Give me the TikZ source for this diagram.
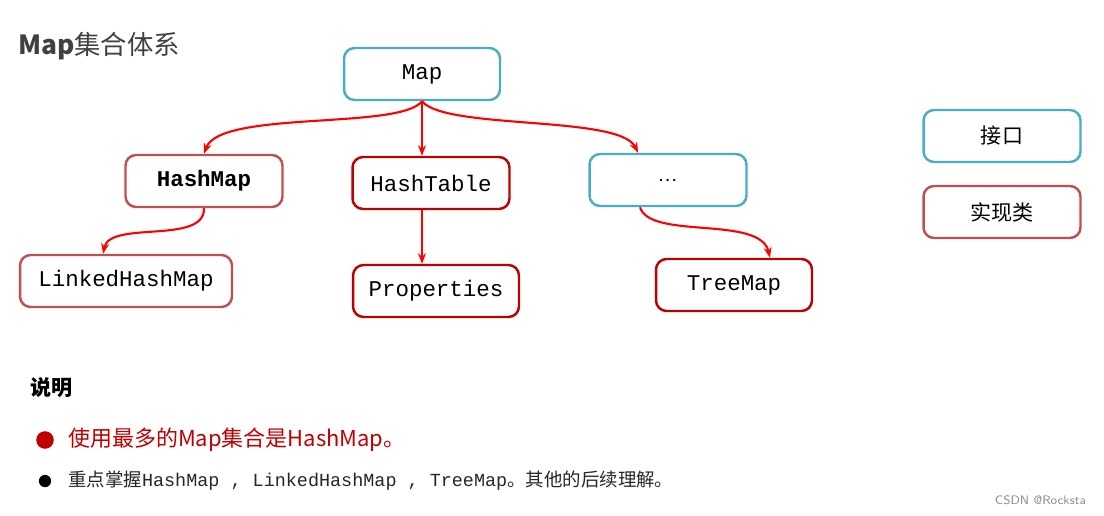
\documentclass[tikz,border=0pt]{standalone}
\usepackage{fontspec}
\setmonofont{Liberation Mono}
\newfontfamily\cjk{Noto Sans CJK SC}
\usetikzlibrary{arrows.meta, positioning}

\definecolor{ifblue}{HTML}{4BACC6}
\definecolor{implred}{HTML}{C0504D}
\definecolor{darkred}{HTML}{C00000}

\tikzset{
  box/.style = {draw, line width=1.4pt, rounded corners=6pt, minimum height=1.04cm,
                font=\fontsize{12.8}{14}\selectfont\ttfamily},
  iface/.style = {box, draw=ifblue},
  impl/.style = {box, draw=implred},
  cls/.style = {box, draw=darkred},
  link/.style = {-{Stealth[length=6pt]}, red, line width=1.2pt},
}

\begin{document}
\begin{tikzpicture}[x=0.02cm, y=-0.02cm]
\useasboundingbox (0,0) rectangle (1104,515);

\node[anchor=west, font=\cjk\fontsize{15}{18}\selectfont, text=black!75] (title) at (12,46) {\textbf{Map}集合体系};

\node[iface, minimum width=3.12cm] (map) at (422,74) {Map};
\node[impl, minimum width=3.14cm, font=\fontsize{12.8}{14}\selectfont\ttfamily\bfseries] (hashmap) at (204,181) {HashMap};
\node[cls, minimum width=3.14cm] (hashtable) at (431,183) {HashTable};
\node[iface, minimum width=3.14cm, font=\cjk] (dots) at (668,180) {…};
\node[impl, minimum width=4.24cm] (linked) at (126,281) {LinkedHashMap};
\node[cls, minimum width=3.32cm] (props) at (436,291) {Properties};
\node[cls, minimum width=3.12cm] (treemap) at (734,285) {TreeMap};

\node[iface, minimum width=3.14cm, font=\cjk\fontsize{12}{14}\selectfont] (legif) at (1002,136) {接口};
\node[impl, minimum width=3.14cm, font=\cjk\fontsize{12}{14}\selectfont] (legimpl) at (1002,212) {实现类};

\draw[link] (map.south) .. controls (400,130) and (220,110) .. (hashmap.north);
\draw[link] (map.south) -- (hashtable.north -| map.south);
\draw[link] (map.south) .. controls (445,130) and (620,115) .. (dots.north -| 638,0);
\draw[link] (hashmap.south) .. controls (205,245) and (110,220) .. (linked.north -| 103,0);
\draw[link] (hashtable.south -| map.south) -- (props.north -| map.south);
\draw[link] (dots.south -| 640,0) .. controls (650,240) and (760,215) .. (treemap.north -| 770,0);

\node[anchor=west, font=\cjk\bfseries\fontsize{12}{14}\selectfont] (note) at (24,388) {说明};
\node[circle, fill=darkred, inner sep=0pt, minimum size=10pt] (b1) at (45,440) {};
\node[anchor=west, text=darkred, font=\cjk\fontsize{12.5}{14}\selectfont] (t1) at (62,440) {使用最多的Map集合是HashMap。};
\node[circle, fill=black, inner sep=0pt, minimum size=7pt] (b2) at (45,481) {};
\node[anchor=west, text=black!85, font=\cjk\fontsize{10.5}{12}\selectfont] (t2) at (62,481) {重点掌握{\ttfamily HashMap , LinkedHashMap , TreeMap}。其他的后续理解。};
\node[anchor=east, text=black!45, font=\sffamily\fontsize{7}{8}\selectfont] (mark) at (1092,500) {CSDN @Rocksta};
\end{tikzpicture}
\end{document}
